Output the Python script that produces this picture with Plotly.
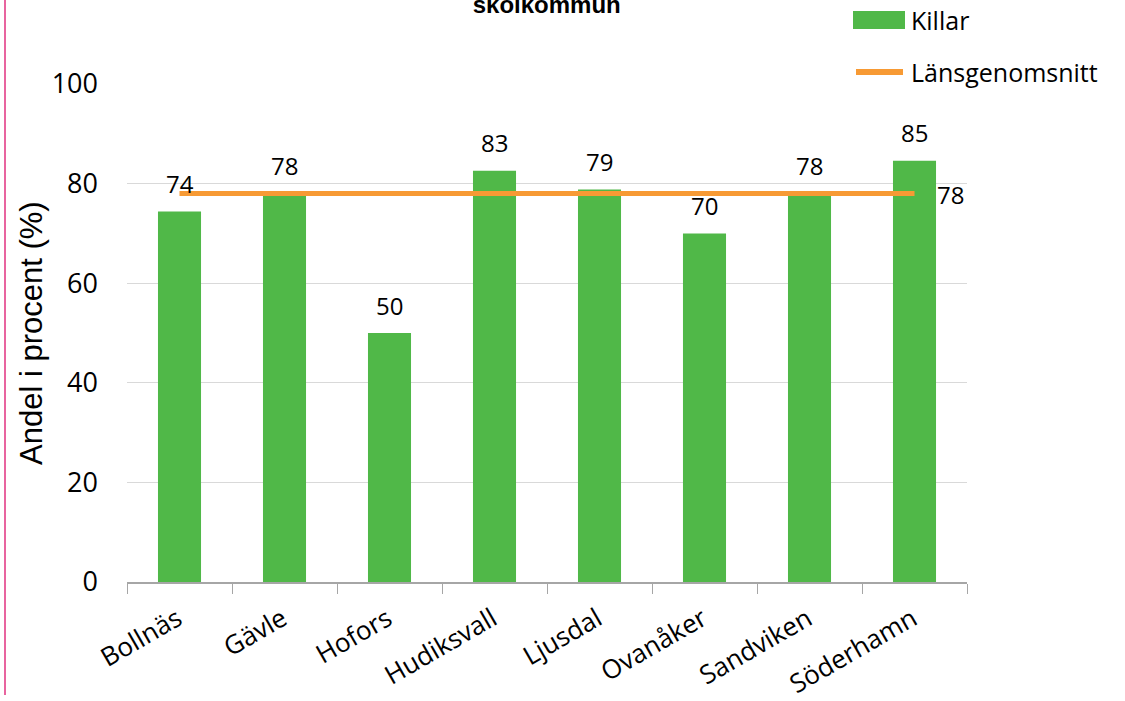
import plotly.graph_objects as go

categories = ["Bollnäs", "Gävle", "Hofors", "Hudiksvall", "Ljusdal", "Ovanåker", "Sandviken", "Söderhamn"]
killar = [74.4, 78.0, 50.0, 82.6, 78.8, 70.0, 78.0, 84.6]
lansgenomsnitt = [78] * len(categories)
y_ticks = [0, 20, 40, 60, 80, 100]

FONT = "Open Sans"
GREEN = "#50B848"
ORANGE = "#F79A34"

fig = go.Figure()
fig.add_trace(go.Bar(x=categories, y=killar, marker=dict(color=GREEN, line=dict(width=0)),
                     width=0.41, name="Killar", showlegend=False))
fig.add_trace(go.Scatter(x=categories, y=lansgenomsnitt, mode="lines",
                         line=dict(color=ORANGE, width=5), name="Länsgenomsnitt", showlegend=False))

# data labels
for c, v in zip(categories, killar):
    fig.add_annotation(x=c, y=v, text=str(round(v)), showarrow=False, yshift=28,
                       font=dict(family=FONT, size=24, color="black"))
fig.add_annotation(x=categories[-1], y=lansgenomsnitt[-1], text=str(lansgenomsnitt[-1]), showarrow=False,
                   xanchor="left", xshift=20, yshift=-1, font=dict(family=FONT, size=24, color="black"))

# layout geometry helpers
W, H = 1125, 701
L, R, T, B = 127, 158, 84, 119
pw, ph = W - L - R, H - T - B
def px(x): return (x - L) / pw
def py(y): return 1 - (y - T) / ph

# title (cut off at top, as in the original)
fig.add_annotation(xref="paper", yref="paper", x=px(546), y=1.0, yshift=64, yanchor="bottom",
                   text="<b>Andel som har provat ... per<br>skolkommun</b>", showarrow=False,
                   font=dict(family="Liberation Sans", size=24, color="black"))

# y-axis title
fig.add_annotation(xref="paper", yref="paper", x=px(31), y=py(333), xanchor="center", yanchor="middle",
                   textangle=-90, text="Andel i procent (%)", showarrow=False,
                   font=dict(family="Liberation Sans", size=31, color="black"))

# manual legend
fig.add_shape(type="rect", xref="paper", yref="paper", x0=px(853), x1=px(905), y0=py(29), y1=py(11),
              fillcolor=GREEN, line=dict(width=0))
fig.add_shape(type="line", xref="paper", yref="paper", x0=px(856), x1=px(903), y0=py(72), y1=py(72),
              line=dict(color=ORANGE, width=6))
fig.add_annotation(xref="paper", yref="paper", x=px(909), y=py(20), xanchor="left", yanchor="middle",
                   text="Killar", showarrow=False, font=dict(family=FONT, size=25, color="black"))
fig.add_annotation(xref="paper", yref="paper", x=px(909), y=py(72), xanchor="left", yanchor="middle",
                   text="Länsgenomsnitt", showarrow=False, font=dict(family=FONT, size=25, color="black"))
# pink border line at left
fig.add_shape(type="line", xref="paper", yref="paper", x0=px(5), x1=px(5), y0=py(0), y1=py(695),
              line=dict(color="#E8649F", width=2))

fig.update_layout(
    width=W, height=H, margin=dict(l=L, r=R, t=T, b=B, autoexpand=False),
    paper_bgcolor="white", plot_bgcolor="white",
    font=dict(family=FONT, color="black"),
    bargap=0.59,
)
fig.update_xaxes(showline=True, linecolor="#A6A6A6", linewidth=1.5, ticks="outside", tickson="boundaries",
                 ticklen=10, tickcolor="#A6A6A6", tickangle=-30, tickfont=dict(size=26, family=FONT),
                 ticklabelstandoff=10, ticklabelshift=-2,
                 showgrid=False, range=[-0.5, 7.5])
fig.update_yaxes(range=[0, 100], tickvals=y_ticks, showgrid=True, gridcolor="#D9D9D9", gridwidth=1,
                 zeroline=False, showline=False, ticks="", ticklabelstandoff=28,
                 tickfont=dict(size=27, family=FONT))

fig.write_html("out.html", config={"displayModeBar": False},
               post_script="document.body.style.margin='0';")
